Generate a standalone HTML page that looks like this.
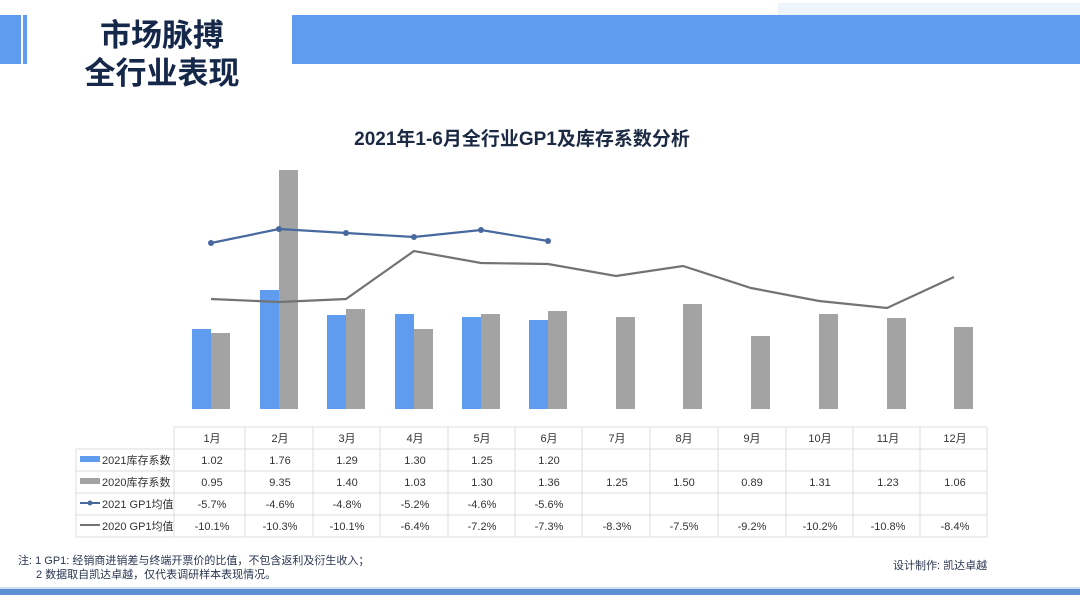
<!DOCTYPE html>
<html><head><meta charset="utf-8"><style>
html,body{margin:0;padding:0;background:#fff;}
svg{display:block;font-family:"Liberation Sans","Noto Sans CJK SC",sans-serif;}
</style></head><body>
<svg width="1080" height="607" viewBox="0 0 1080 607" xmlns="http://www.w3.org/2000/svg">
<rect width="1080" height="607" fill="#fff"/>
<!-- header -->
<rect x="778" y="3" width="302" height="12" fill="#eef4fc"/>
<rect x="0" y="15" width="21" height="49" fill="#5f9cf0"/>
<rect x="23" y="15" width="4" height="49" fill="#5f9cf0"/>
<rect x="292" y="15" width="788" height="49" fill="#5f9cf0"/>
<text x="162" y="46" text-anchor="middle" font-size="31" font-weight="bold" fill="#15284a" font-family="Noto Sans CJK SC, sans-serif">市场脉搏</text>
<text x="162" y="84" text-anchor="middle" font-size="31" font-weight="bold" fill="#15284a" font-family="Noto Sans CJK SC, sans-serif">全行业表现</text>
<text x="522" y="145" text-anchor="middle" font-size="19" font-weight="bold" fill="#1c2a44">2021年1-6月全行业GP1及库存系数分析</text>
<!-- bars -->
<g fill="#5f9cf0">
<rect x="192" y="329" width="19" height="80"/>
<rect x="260" y="290" width="19" height="119"/>
<rect x="327" y="315" width="19" height="94"/>
<rect x="395" y="314" width="19" height="95"/>
<rect x="462" y="317" width="19" height="92"/>
<rect x="529" y="320" width="19" height="89"/>
</g>
<g fill="#a3a3a3">
<rect x="211" y="333" width="19" height="76"/>
<rect x="279" y="170" width="19" height="239"/>
<rect x="346" y="309" width="19" height="100"/>
<rect x="414" y="329" width="19" height="80"/>
<rect x="481" y="314" width="19" height="95"/>
<rect x="548" y="311" width="19" height="98"/>
<rect x="616" y="317" width="19" height="92"/>
<rect x="683" y="304" width="19" height="105"/>
<rect x="751" y="336" width="19" height="73"/>
<rect x="819" y="314" width="19" height="95"/>
<rect x="887" y="318" width="19" height="91"/>
<rect x="954" y="327" width="19" height="82"/>
</g>
<polyline fill="none" stroke="#737373" stroke-width="2.2" points="211,299 279,302 346,299 414,251 481,263 548,264 616,276 683,266 751,288 819,301 887,308 954,277"/>
<polyline fill="none" stroke="#47699e" stroke-width="2.2" points="211,243 279,229 346,233 414,237 481,230 548,241"/>
<g fill="#47699e">
<circle cx="211" cy="243" r="3"/><circle cx="279" cy="229" r="3"/><circle cx="346" cy="233" r="3"/><circle cx="414" cy="237" r="3"/><circle cx="481" cy="230" r="3"/><circle cx="548" cy="241" r="3"/>
</g>
<!-- table -->
<g stroke="#dcdcdc" stroke-width="1" fill="none">
<line x1="174" y1="427" x2="987" y2="427"/>
<line x1="76" y1="449" x2="987" y2="449"/>
<line x1="76" y1="471" x2="987" y2="471"/>
<line x1="76" y1="493" x2="987" y2="493"/>
<line x1="76" y1="515" x2="987" y2="515"/>
<line x1="76" y1="537" x2="987" y2="537"/>
<line x1="76" y1="449" x2="76" y2="537"/>
<line x1="174" y1="427" x2="174" y2="537"/>
<line x1="245" y1="427" x2="245" y2="537"/>
<line x1="313" y1="427" x2="313" y2="537"/>
<line x1="380" y1="427" x2="380" y2="537"/>
<line x1="448" y1="427" x2="448" y2="537"/>
<line x1="515" y1="427" x2="515" y2="537"/>
<line x1="582" y1="427" x2="582" y2="537"/>
<line x1="650" y1="427" x2="650" y2="537"/>
<line x1="718" y1="427" x2="718" y2="537"/>
<line x1="786" y1="427" x2="786" y2="537"/>
<line x1="853" y1="427" x2="853" y2="537"/>
<line x1="920" y1="427" x2="920" y2="537"/>
<line x1="987" y1="427" x2="987" y2="537"/>
</g>
<g font-size="11" fill="#333" text-anchor="middle">
<text x="212" y="442">1月</text><text x="280" y="442">2月</text><text x="347" y="442">3月</text><text x="415" y="442">4月</text><text x="482" y="442">5月</text><text x="549" y="442">6月</text><text x="617" y="442">7月</text><text x="684" y="442">8月</text><text x="752" y="442">9月</text><text x="820" y="442">10月</text><text x="888" y="442">11月</text><text x="955" y="442">12月</text>
<text x="212" y="464">1.02</text><text x="280" y="464">1.76</text><text x="347" y="464">1.29</text><text x="415" y="464">1.30</text><text x="482" y="464">1.25</text><text x="549" y="464">1.20</text>
<text x="212" y="486">0.95</text><text x="280" y="486">9.35</text><text x="347" y="486">1.40</text><text x="415" y="486">1.03</text><text x="482" y="486">1.30</text><text x="549" y="486">1.36</text><text x="617" y="486">1.25</text><text x="684" y="486">1.50</text><text x="752" y="486">0.89</text><text x="820" y="486">1.31</text><text x="888" y="486">1.23</text><text x="955" y="486">1.06</text>
<text x="212" y="508">-5.7%</text><text x="280" y="508">-4.6%</text><text x="347" y="508">-4.8%</text><text x="415" y="508">-5.2%</text><text x="482" y="508">-4.6%</text><text x="549" y="508">-5.6%</text>
<text x="212" y="530">-10.1%</text><text x="280" y="530">-10.3%</text><text x="347" y="530">-10.1%</text><text x="415" y="530">-6.4%</text><text x="482" y="530">-7.2%</text><text x="549" y="530">-7.3%</text><text x="617" y="530">-8.3%</text><text x="684" y="530">-7.5%</text><text x="752" y="530">-9.2%</text><text x="820" y="530">-10.2%</text><text x="888" y="530">-10.8%</text><text x="955" y="530">-8.4%</text>
</g>
<rect x="80" y="456" width="20" height="6" fill="#5f9cf0"/>
<rect x="80" y="478" width="20" height="6" fill="#a3a3a3"/>
<line x1="80" y1="503" x2="100" y2="503" stroke="#47699e" stroke-width="2"/><circle cx="90" cy="503" r="2.5" fill="#47699e"/>
<line x1="80" y1="525" x2="100" y2="525" stroke="#737373" stroke-width="2"/>
<g font-size="11" fill="#333">
<text x="102" y="464">2021库存系数</text>
<text x="102" y="486">2020库存系数</text>
<text x="102" y="508">2021 GP1均值</text>
<text x="102" y="530">2020 GP1均值</text>
</g>
<!-- notes -->
<g font-size="11" fill="#2a3550">
<text x="18" y="564">注: 1 GP1: 经销商进销差与终端开票价的比值，不包含返利及衍生收入；</text>
<text x="36" y="578">2 数据取自凯达卓越，仅代表调研样本表现情况。</text>
<text x="893" y="569">设计制作: 凯达卓越</text>
</g>
<rect x="0" y="587" width="1080" height="2" fill="#cfe0f5"/>
<rect x="0" y="589" width="1080" height="6" fill="#5b8fd6"/>
</svg>
</body></html>
